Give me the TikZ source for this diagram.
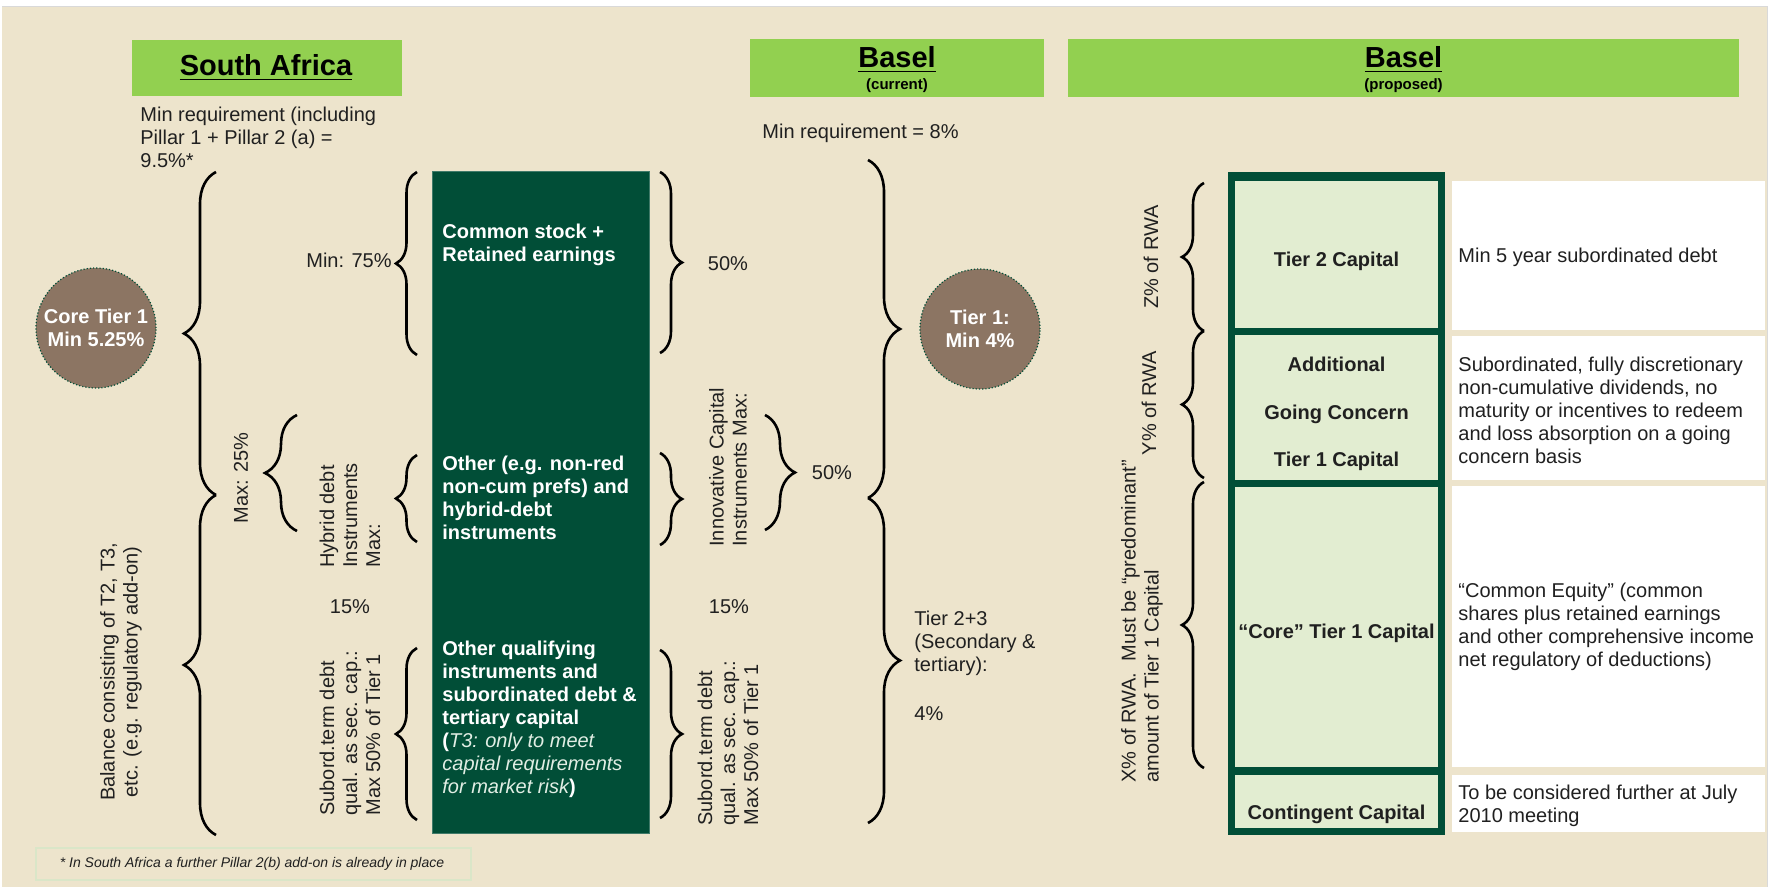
\documentclass[tikz,border=0pt]{standalone}
\usepackage{fontspec}
\setmainfont{Liberation Sans}
\usetikzlibrary{decorations.pathreplacing}
\definecolor{pagebg}{RGB}{237,228,204}
\definecolor{hdrgreen}{RGB}{146,208,80}
\definecolor{dkgreen}{RGB}{1,78,55}
\definecolor{ltgreen}{RGB}{226,237,209}
\definecolor{brownc}{RGB}{140,117,99}
\definecolor{txtc}{RGB}{32,32,32}
\definecolor{fnline}{RGB}{218,230,200}
\definecolor{softwhite}{RGB}{225,238,228}
\newcommand{\myfs}[2]{\fontsize{#1}{#2}\selectfont}
\tikzset{
  body/.style={font=\myfs{10pt}{11.5pt}, text=txtc, inner sep=0pt, align=left},
  rottext/.style={body, rotate=90},
  wtext/.style={font=\bfseries\myfs{10pt}{11.5pt}, text=white, align=left, inner sep=0pt, anchor=north west},
  hdrbox/.style={fill=hdrgreen, inner sep=0pt},
  htitle/.style={font=\bfseries\myfs{14.5pt}{16pt}, text=black, inner sep=0pt, anchor=base},
  hsub/.style={font=\bfseries\myfs{7.5pt}{9pt}, text=black, inner sep=0pt, anchor=base},
  brc/.style={decorate, decoration={brace, amplitude=#1}, line width=1.3pt, draw=black},
  badge/.style={circle, fill=brownc, draw=dkgreen, densely dotted, line width=0.6pt, minimum size=60pt, inner sep=0pt, text=white, font=\bfseries\myfs{10pt}{11.5pt}, align=center},
  framebox/.style={fill=dkgreen, inner sep=0pt},
  cellbox/.style={fill=ltgreen, inner sep=0pt},
  celltext/.style={font=\bfseries\myfs{10pt}{11.5pt}, text=txtc, align=center, inner sep=0pt},
  descbox/.style={fill=white, inner sep=0pt},
  desctext/.style={body, anchor=west},
}
\begin{document}
\begin{tikzpicture}[x=0.5pt,y=-0.5pt]
\useasboundingbox (0,0) rectangle (1774,887);
\fill[white] (0,0) rectangle (1774,887);
\fill[pagebg] (2,7) rectangle (1767,887);
\draw[black!15, line width=0.6pt] (2,6.5) -- (1767.5,6.5) -- (1767.5,887);

% ---------- headers
\node[hdrbox, minimum width=135pt, minimum height=28pt] (hSA) at (267,68) {};
\node[htitle] (tSA) at (266,76) {\underline{South Africa}};
\node[hdrbox, minimum width=147pt, minimum height=29pt] (hBC) at (897,68) {};
\node[htitle] (tBC) at (897,68) {\underline{Basel}};
\node[hsub] (sBC) at (897,90) {(current)};
\node[hdrbox, minimum width=335.5pt, minimum height=29pt] (hBP) at (1403.5,68) {};
\node[htitle] (tBP) at (1403.5,68) {\underline{Basel}};
\node[hsub] (sBP) at (1403.5,90) {(proposed)};

% ---------- South Africa column
\node[body, anchor=north west] (minSA) at (140,107) {Min requirement (including\\Pillar 1 + Pillar 2 (a) =\\9.5\%*};
\coordinate (saA) at (216,172);
\coordinate (saB) at (216,495);
\coordinate (saC) at (216,835);
\draw[brc=16pt] (saB) -- (saA);
\draw[brc=16pt] (saC) -- (saB);
\node[badge] (core) at (96,328) {Core Tier 1\\Min 5.25\%};
\node[rottext, anchor=center] (max25) at (241,478) {Max: 25\%};
\node[rottext, anchor=center, align=center] (bal) at (121,672) {Balance consisting of T2, T3,\\etc. (e.g. regulatory add-on)};

\coordinate (hyA) at (297,415);
\coordinate (hyB) at (297,531);
\draw[brc=16pt] (hyB) -- (hyA);
\node[rottext, anchor=west] (hyb) at (350,568) {Hybrid debt\\Instruments\\Max:};
\node[body, anchor=center] (p15a) at (350,607) {15\%};
\node[rottext, anchor=west] (subA) at (350,816) {Subord.term debt\\qual. as sec. cap.:\\Max 50\% of Tier 1};

\node[body, anchor=east] (m75) at (392,260) {Min: 75\%};
\coordinate (lbA) at (417,172);
\coordinate (lbB) at (417,355);
\draw[brc=10.5pt] (lbB) -- (lbA);
\coordinate (lbC) at (417,455);
\coordinate (lbD) at (417,542);
\draw[brc=10.5pt] (lbD) -- (lbC);
\coordinate (lbE) at (417,648);
\coordinate (lbF) at (417,820);
\draw[brc=10.5pt] (lbF) -- (lbE);

% ---------- instrument column
\node[fill=dkgreen, draw=dkgreen!75!white, line width=0.4pt, minimum width=108.5pt, minimum height=331pt, inner sep=0pt] (col) at (540.5,502) {};
\node[wtext] (cs) at (442,224) {Common stock +\\Retained earnings};
\node[wtext] (oth) at (442,456) {Other (e.g. non-red\\non-cum prefs) and\\hybrid-debt\\instruments};
\node[wtext] (oq) at (442,641) {Other qualifying\\instruments and\\subordinated debt \&\\tertiary capital\\({\color{softwhite}\itshape\mdseries T3: only to meet}\\{\color{softwhite}\itshape\mdseries capital requirements}\\{\color{softwhite}\itshape\mdseries for market risk})};

\coordinate (rbA) at (660,172);
\coordinate (rbB) at (660,353);
\draw[brc=11pt] (rbA) -- (rbB);
\coordinate (rbC) at (660,453);
\coordinate (rbD) at (660,545);
\draw[brc=11pt] (rbC) -- (rbD);
\coordinate (rbE) at (660,650);
\coordinate (rbF) at (660,818);
\draw[brc=11pt] (rbE) -- (rbF);

% ---------- Basel current
\node[body, anchor=center] (p50a) at (728,264) {50\%};
\node[rottext, anchor=west] (inn) at (728,547) {Innovative Capital\\Instruments Max:};
\coordinate (inA) at (765,415);
\coordinate (inB) at (765,530);
\draw[brc=15pt] (inA) -- (inB);
\node[body, anchor=center] (p50b) at (832,473) {50\%};
\node[body, anchor=center] (p15b) at (729,607) {15\%};
\node[rottext, anchor=west] (subB) at (728,826) {Subord.term debt\\qual. as sec. cap.:\\Max 50\% of Tier 1};

\node[body, anchor=base west] (min8) at (762,139) {Min requirement = 8\%};
\coordinate (bcA) at (868,160);
\coordinate (bcB) at (868,498);
\coordinate (bcC) at (868,823);
\draw[brc=16pt] (bcA) -- (bcB);
\draw[brc=16pt] (bcB) -- (bcC);
\node[badge] (t1) at (980,329) {Tier 1:\\Min 4\%};
\node[body, anchor=north west] (t23) at (914,611) {Tier 2+3\\(Secondary \&\\tertiary):\\[13pt]4\%};

% ---------- Basel proposed
\node[framebox, minimum width=108.5pt, minimum height=331.5pt] (frm) at (1336.5,503.5) {};
\node[cellbox, minimum width=101.5pt, minimum height=73.5pt] (c1) at (1336.5,254.5) {};
\node[cellbox, minimum width=101.5pt, minimum height=72.5pt] (c2) at (1336.5,407.5) {};
\node[cellbox, minimum width=101.5pt, minimum height=140pt] (c3) at (1336.5,627) {};
\node[cellbox, minimum width=101.5pt, minimum height=26.5pt] (c4) at (1336.5,801.5) {};
\node[celltext] (c1t) at (1336.5,261) {Tier 2 Capital};
\node[celltext, font=\bfseries\myfs{10pt}{23.75pt}] (c2t) at (1336.5,414) {Additional\\Going Concern\\Tier 1 Capital};
\node[celltext] (c3t) at (1336.5,633) {“Core” Tier 1 Capital};
\node[celltext] (c4t) at (1336.5,814) {Contingent Capital};

\node[descbox, minimum width=156.5pt, minimum height=74.5pt] (d1) at (1608.5,255.5) {};
\node[descbox, minimum width=156.5pt, minimum height=72pt] (d2) at (1608.5,408) {};
\node[descbox, minimum width=156.5pt, minimum height=140.5pt] (d3) at (1608.5,626.5) {};
\node[descbox, minimum width=156.5pt, minimum height=28.5pt] (d4) at (1608.5,803.5) {};
\node[desctext] (d1t) at (1458,257) {Min 5 year subordinated debt};
\node[desctext] (d2t) at (1458,410) {Subordinated, fully discretionary\\non-cumulative dividends, no\\maturity or incentives to redeem\\and loss absorption on a going\\concern basis};
\node[desctext] (d3t) at (1458,627) {“Common Equity” (common\\shares plus retained earnings\\and other comprehensive income\\net regulatory of deductions)};
\node[desctext] (d4t) at (1458,806) {To be considered further at July\\2010 meeting};

\coordinate (zA) at (1204,183);
\coordinate (zB) at (1204,331);
\coordinate (zC) at (1204,478);
\coordinate (zD) at (1204,482);
\coordinate (zE) at (1204,768);
\draw[brc=11pt] (zB) -- (zA);
\draw[brc=11pt] (zC) -- (zB);
\draw[brc=11pt] (zE) -- (zD);
\node[rottext, anchor=center] (zl) at (1151,257) {Z\% of RWA};
\node[rottext, anchor=center] (yl) at (1149,403) {Y\% of RWA};
\node[rottext, anchor=west] (xl) at (1142,783) {X\% of RWA.\ \ Must be “predominant”\\amount of Tier 1 Capital};

% ---------- footnote
\node[draw=fnline, line width=1pt, fill=pagebg, minimum width=217.5pt, minimum height=16pt, inner sep=0pt] (fnb) at (253.5,864) {};
\node[font=\itshape\myfs{7pt}{8pt}, text=txtc, inner sep=0pt] (fnt) at (252,864) {* In South Africa a further Pillar 2(b) add-on is already in place};
\end{tikzpicture}
\end{document}
